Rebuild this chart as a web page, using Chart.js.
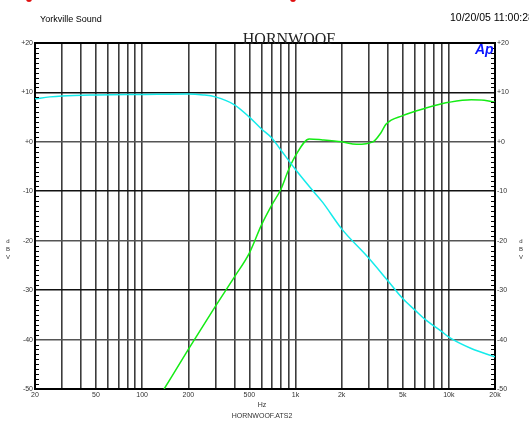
<!DOCTYPE html>
<html>
<head>
<meta charset="utf-8">
<script src="https://cdn.jsdelivr.net/npm/chart.js@4.4.1/dist/chart.umd.min.js"></script>
<style>
  html, body { margin: 0; padding: 0; background: #fff; overflow: hidden; }
  #apChart { display: block; }
</style>
</head>
<body>
<canvas id="apChart" width="529" height="425"></canvas>
<script>
// frequency grid + labels
const gridHz = [20, 30, 40, 50, 60, 70, 80, 90, 100, 200, 300, 400, 500, 600, 700, 800, 900,
  1000, 2000, 3000, 4000, 5000, 6000, 7000, 8000, 9000, 10000, 20000];
const labelHz = { 20: '20', 50: '50', 100: '100', 200: '200', 500: '500', 1000: '1k',
  2000: '2k', 5000: '5k', 10000: '10k', 20000: '20k' };

// cyan trace (low pass)
const cyanHz = [20, 25, 30, 50, 100, 200, 250, 300, 400, 500, 600, 700, 800, 1000, 1250, 1500,
  2000, 3000, 4000, 5000, 6000, 7000, 9000, 10000, 14000, 20000];
const cyanDb = [8.7, 9.1, 9.3, 9.5, 9.6, 9.7, 9.5, 9.1, 7.5, 5.0, 2.6, 0.8, -1.6, -5.6, -9.3, -12.2,
  -17.6, -23.5, -28.1, -31.7, -34.0, -35.9, -38.4, -39.5, -41.8, -43.5];

// green trace (high pass)
const greenHz = [139, 200, 300, 400, 500, 600, 700, 800, 900, 1000, 1230, 1500, 2000, 2500,
  3200, 3600, 3900, 5000, 7000, 9000, 10000, 14000, 17000, 20000];
const greenDb = [-50, -42, -33.3, -27.3, -22.5, -16.8, -12.8, -9.7, -5.7, -2.8, 0.6, 0.4, 0.0, -0.5,
  0.0, 1.8, 3.6, 5.3, 6.8, 7.7, 8.0, 8.5, 8.4, 8.0];

const yMin = -50;
const yMax = 20;

const dbLabel = (v) => (v >= 0 ? '+' + v : String(v));
const toPoints = (xs, ys) => xs.map((x, i) => ({ x: x, y: ys[i] }));

const decorations = {
  id: 'decorations',
  afterDraw(chart) {
    const { ctx, chartArea: a, scales } = chart;
    const y = scales.y;
    ctx.save();

    // minor dB ticks on both sides
    ctx.strokeStyle = '#000';
    ctx.lineWidth = 1;
    ctx.beginPath();
    for (let v = yMin + 1; v < yMax; v++) {
      if (v % 10 === 0) continue;
      const py = Math.round(y.getPixelForValue(v)) + 0.5;
      ctx.moveTo(a.left, py); ctx.lineTo(a.left + 4, py);
      ctx.moveTo(a.right - 4, py); ctx.lineTo(a.right, py);
    }
    ctx.stroke();

    // header text
    ctx.fillStyle = '#000';
    ctx.font = '9px "Liberation Sans", Arial, sans-serif';
    ctx.textAlign = 'left';
    ctx.textBaseline = 'alphabetic';
    ctx.fillText('Yorkville Sound', 40, 22);
    ctx.font = '10.5px "Liberation Sans", Arial, sans-serif';
    ctx.fillText('10/20/05 11:00:28', 450, 21);

    ctx.font = '16px "Liberation Serif", "Times New Roman", serif';
    ctx.textAlign = 'center';
    ctx.fillStyle = '#222';
    ctx.fillText('HORNWOOF', 289, 44);

    // Ap logo
    ctx.fillStyle = '#0a14ff';
    ctx.font = 'italic bold 14px "Liberation Sans", Arial, sans-serif';
    ctx.textAlign = 'left';
    ctx.fillText('Ap', 475, 54);

    // axis captions
    ctx.fillStyle = '#333';
    ctx.font = '6px "Liberation Sans", Arial, sans-serif';
    ctx.textAlign = 'center';
    ['d', 'B', 'V'].forEach((c, i) => {
      ctx.fillText(c, 8, 243 + i * 8);
      ctx.fillText(c, 521, 243 + i * 8);
    });
    ctx.font = '7px "Liberation Sans", Arial, sans-serif';
    ctx.fillText('Hz', 262, 407);
    ctx.fillText('HORNWOOF.ATS2', 262, 418);

    // red marks at top edge
    ctx.fillStyle = '#e01010';
    [29, 293].forEach((px) => {
      ctx.beginPath();
      ctx.arc(px, -1, 3, 0, Math.PI * 2);
      ctx.fill();
    });
    ctx.restore();
  },
};

const ctx = document.getElementById('apChart').getContext('2d');
const tickFont = { family: '"Liberation Sans", Arial, sans-serif', size: 7 };

new Chart(ctx, {
  type: 'line',
  data: {
    datasets: [
      {
        data: toPoints(cyanHz, cyanDb),
        borderColor: 'rgb(20, 235, 235)',
        borderWidth: 1.5,
        pointRadius: 0,
        cubicInterpolationMode: 'monotone',
      },
      {
        data: toPoints(greenHz, greenDb),
        borderColor: 'rgb(20, 235, 20)',
        borderWidth: 1.5,
        pointRadius: 0,
        cubicInterpolationMode: 'monotone',
      },
    ],
  },
  options: {
    responsive: false,
    animation: false,
    devicePixelRatio: 1,
    layout: { padding: { top: 43, left: 0, right: 0, bottom: 0 } },
    plugins: { legend: { display: false }, tooltip: { enabled: false } },
    scales: {
      x: {
        type: 'logarithmic',
        min: 20,
        max: 20000,
        afterBuildTicks: (scale) => {
          scale.ticks = gridHz.map((v) => ({ value: v }));
        },
        afterFit: (scale) => { scale.height = 36; },
        ticks: {
          autoSkip: false,
          maxRotation: 0,
          padding: 2,
          color: '#333',
          font: tickFont,
          callback: (v) => labelHz[v] || '',
        },
        grid: {
          drawTicks: false,
          color: (c) => (c.tick && (c.tick.value === 20 || c.tick.value === 20000) ? '#000' : '#3c3c3c'),
          lineWidth: 1.6,
        },
        border: { color: '#000', width: 2 },
      },
      y: {
        position: 'left',
        min: yMin,
        max: yMax,
        afterFit: (scale) => { scale.width = 35; },
        ticks: {
          stepSize: 10,
          padding: 2,
          color: '#333',
          font: tickFont,
          callback: dbLabel,
        },
        grid: {
          drawTicks: false,
          color: (c) => {
            const v = c.tick ? c.tick.value : 0;
            if (v === yMax || v === yMin) return '#000';
            return (v / 10) % 2 === 0 ? '#555' : '#111';
          },
          lineWidth: (c) => (c.tick && c.tick.value === yMax ? 2 : 1.6),
        },
        border: { color: '#000', width: 2 },
      },
      y2: {
        position: 'right',
        min: yMin,
        max: yMax,
        afterFit: (scale) => { scale.width = 34; },
        ticks: {
          stepSize: 10,
          padding: 2,
          color: '#333',
          font: tickFont,
          callback: dbLabel,
        },
        grid: { drawOnChartArea: false, drawTicks: false },
        border: { color: '#000', width: 2 },
      },
    },
  },
  plugins: [decorations],
});
</script>
</body>
</html>
